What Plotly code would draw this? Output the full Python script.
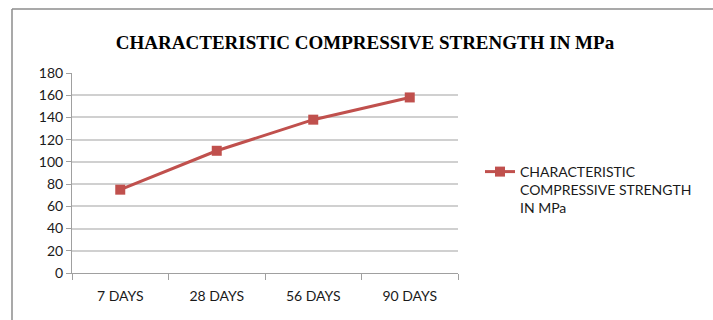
import plotly.graph_objects as go

categories = ["7 DAYS", "28 DAYS", "56 DAYS", "90 DAYS"]
strength = [75, 110, 138, 158]
y_ticks = [0, 20, 40, 60, 80, 100, 120, 140, 160, 180]
series_name = "CHARACTERISTIC<br>COMPRESSIVE STRENGTH<br>IN MPa"
title_text = "CHARACTERISTIC COMPRESSIVE STRENGTH IN MPa"

W, H = 713, 320
L, R, T, B = 72, 255, 73, 47
pw, ph = W - L - R, H - T - B

def px(x):
    return (x - L) / pw

def py(y):
    return (H - B - y) / ph

tick_font = dict(family="Lato, Open Sans, sans-serif", size=14, color="#1a1a1a")

fig = go.Figure()
fig.add_trace(go.Scatter(
    x=categories, y=strength, mode="lines+markers", name=series_name,
    line=dict(color="#C0504D", width=3),
    marker=dict(symbol="square", size=10, color="#C0504D"),
))

fig.update_layout(
    width=W, height=H,
    margin=dict(l=L, r=R, t=T, b=B),
    paper_bgcolor="white", plot_bgcolor="white",
    showlegend=True,
    legend=dict(x=px(480), y=py(156), xanchor="left", yanchor="top",
                font=tick_font, valign="top", itemwidth=30, tracegroupgap=0),
    title=dict(text="<b>" + title_text + "</b>", xref="container", x=365 / W,
               xanchor="center", yref="container", y=1 - 42 / H, yanchor="middle",
               font=dict(family="Liberation Serif, Times New Roman, serif", size=19, color="black")),
    xaxis=dict(type="category", showgrid=False, showline=True, linecolor="#A0A0A0",
               linewidth=1, ticks="outside", tickson="boundaries", ticklen=6,
               tickcolor="#A0A0A0", ticklabelstandoff=10,
               tickfont=tick_font, range=[-0.5, 3.5]),
    yaxis=dict(range=[0, 180], tickvals=y_ticks, showgrid=True, gridcolor="#D0D0D0",
               gridwidth=1.5, showline=True, linecolor="#A0A0A0", linewidth=1,
               ticks="outside", ticklen=5, tickcolor="#A0A0A0", zeroline=False,
               tickfont=tick_font),
    shapes=[
        dict(type="line", xref="paper", yref="paper", x0=px(12), x1=px(12),
             y0=py(9), y1=py(330), line=dict(color="#8C8C8C", width=1.5)),
        dict(type="line", xref="paper", yref="paper", x0=px(12), x1=px(720),
             y0=py(9), y1=py(9), line=dict(color="#8C8C8C", width=1.5)),
    ],
)

fig.write_html("out.html")
